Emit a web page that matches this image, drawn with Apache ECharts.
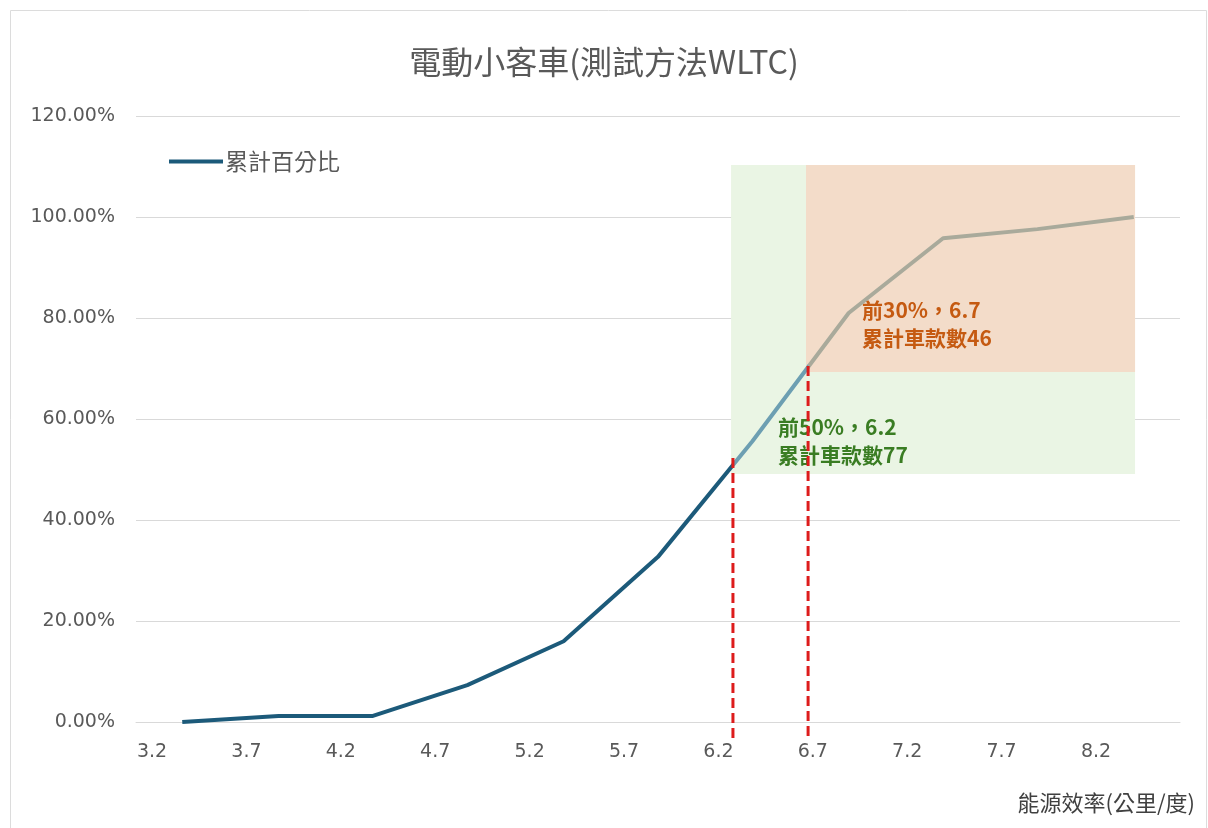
<!DOCTYPE html>
<html>
<head>
<meta charset="utf-8">
<title>電動小客車(測試方法WLTC)</title>
<script src="https://cdn.jsdelivr.net/npm/echarts@6.0.0/dist/echarts.min.js"></script>
<style>
  html, body { margin: 0; padding: 0; background: #fff; }
  #main { width: 1208px; height: 828px; }
</style>
</head>
<body>
<div id="main"></div>
<script>
// 能源效率 (x) and 累計百分比 (y)
const efficiency = [3.36, 3.87, 4.37, 4.87, 5.38, 5.88, 6.38, 6.89, 7.39, 7.89, 8.4];
const cumPercent = [0, 0.012, 0.012, 0.073, 0.16, 0.327, 0.556, 0.81, 0.958, 0.976, 1.0];
const xTickLabels = [3.2, 3.7, 4.2, 4.7, 5.2, 5.7, 6.2, 6.7, 7.2, 7.7, 8.2];

// cut-off lines (前50% / 前30%)
const cutX = [6.277, 6.675];
const cutTop = [0.523, 0.705];
const cutBottom = -0.036;

// shaded zones: [xFrom, xTo, yFrom, yTo]
const greenZone = [6.267, 8.407, 0.491, 1.103];
const orangeZone = [6.664, 8.407, 0.693, 1.103];
const notes = ["前50%，6.2\n累計車款數77", "前30%，6.7\n累計車款數46"];

const cjk = "'Noto Sans CJK TC', 'Noto Sans CJK SC', sans-serif";

function cutSeries(i) {
  return {
    type: "line",
    silent: true,
    clip: false,
    symbol: "none",
    z: 10,
    lineStyle: { color: "#dd1c1c", width: 3, type: [10, 5] },
    data: [
      [cutX[i], cutTop[i]],
      [cutX[i], cutBottom],
    ],
  };
}

function noteLabel(text, color, offset) {
  return {
    show: true,
    position: "insideBottomLeft",
    distance: 0,
    offset: offset,
    formatter: text,
    color: color,
    fontFamily: cjk,
    fontSize: 21,
    fontWeight: "bold",
    lineHeight: 28,
  };
}

let myChart = echarts.init(document.getElementById("main"));
let option = {
  backgroundColor: "#fff",
  animation: false,
  title: {
    text: "電動小客車(測試方法WLTC)",
    left: "center",
    top: 41,
    textStyle: { fontFamily: cjk, fontSize: 32, fontWeight: "normal", color: "#595959" },
  },
  legend: {
    data: [{ name: "累計百分比", itemStyle: { color: "#1c5a7a" } }],
    left: 164,
    top: 145,
    icon: "rect",
    itemWidth: 54,
    itemHeight: 4,
    itemGap: 4,
    textStyle: { fontFamily: cjk, fontSize: 23, color: "#595959", padding: [0, 0, 0, -3] },
  },
  graphic: [
    {
      type: "rect",
      silent: true,
      shape: { x: 10.5, y: 10.5, width: 1196, height: 830 },
      style: { fill: null, stroke: "#dcdcdc", lineWidth: 1 },
    },
  ],
  visualMap: {
    type: "piecewise",
    show: false,
    dimension: 0,
    seriesIndex: 0,
    pieces: [
      { lt: cutX[0], color: "#1c5a7a" },
      { gte: cutX[0], lt: cutX[1], color: "#6d9fb2" },
      { gte: cutX[1], color: "#a9aa9b" },
    ],
  },
  grid: { left: 136, right: 28, top: 116, bottom: 106 },
  xAxis: {
    type: "value",
    min: 3.115,
    max: 8.645,
    name: "能源效率(公里/度)",
    nameLocation: "end",
    nameGap: 15,
    nameTextStyle: {
      fontFamily: cjk,
      fontSize: 22,
      color: "#404040",
      align: "right",
      verticalAlign: "top",
      padding: [70, 0, 0, 0],
    },
    axisLine: { lineStyle: { color: "#d9d9d9", width: 1 } },
    axisTick: { show: false },
    splitLine: { show: false },
    axisLabel: {
      customValues: xTickLabels,
      formatter: (v) => v.toFixed(1),
      margin: 21,
      fontFamily: "'DejaVu Sans', sans-serif",
      fontSize: 19,
      color: "#595959",
    },
  },
  yAxis: {
    type: "value",
    min: 0,
    max: 1.2,
    interval: 0.2,
    axisLine: { show: false },
    axisTick: { show: false },
    splitLine: { lineStyle: { color: "#d9d9d9", width: 1 } },
    axisLabel: {
      formatter: (v) => (v * 100).toFixed(2) + "%",
      margin: 21,
      fontFamily: "'DejaVu Sans', sans-serif",
      fontSize: 19,
      color: "#595959",
    },
  },
  series: [
    {
      name: "累計百分比",
      type: "line",
      symbol: "none",
      z: 3,
      lineStyle: { width: 4 },
      data: efficiency.map((x, i) => [x, cumPercent[i]]),
      markArea: {
        silent: true,
        data: [
          [
            {
              coord: [greenZone[0], greenZone[3]],
              itemStyle: { color: "#eaf5e4", opacity: 1 },
              label: noteLabel(notes[0], "#3a7d23", [47, -5]),
            },
            { coord: [greenZone[1], greenZone[2]] },
          ],
          [
            {
              coord: [orangeZone[0], orangeZone[3]],
              itemStyle: { color: "#f3dcc9", opacity: 1 },
              label: noteLabel(notes[1], "#c55a11", [56, -20]),
            },
            { coord: [orangeZone[1], orangeZone[2]] },
          ],
        ],
      },
    },
    cutSeries(0),
    cutSeries(1),
  ],
};

if (option && typeof option === "object") {
  myChart.setOption(option);
}
</script>
</body>
</html>
